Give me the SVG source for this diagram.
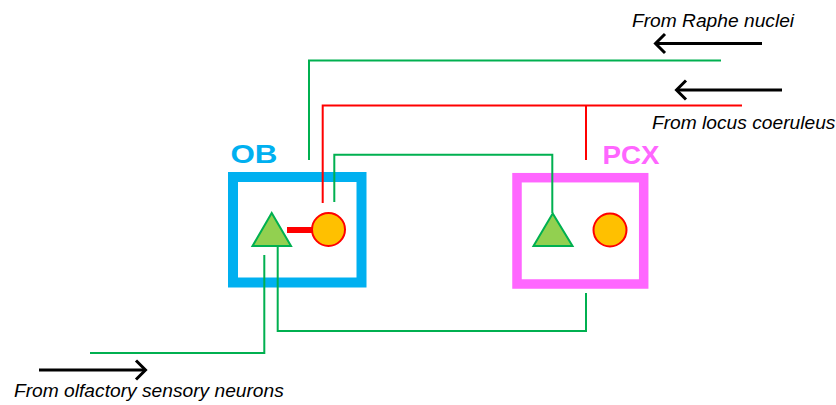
<svg xmlns="http://www.w3.org/2000/svg" width="836" height="405" viewBox="0 0 836 405">
<style>
.lbl{font-family:"Liberation Sans",Arial,sans-serif;font-style:italic;font-size:19.2px;fill:#000}
.ttl{font-family:"Liberation Sans",Arial,sans-serif;font-weight:bold}
.g{fill:none;stroke:#00B050;stroke-width:2}
.r{fill:none;stroke:#FF0000;stroke-width:2}
.arr{fill:none;stroke:#000;stroke-width:3}
.tri{fill:#92D050;stroke:#00B050;stroke-width:2;stroke-linejoin:miter}
.cir{fill:#FFC000;stroke:#FF0000;stroke-width:2}
</style>
<rect width="836" height="405" fill="#fff"/>
<g id="OB">
<rect x="233" y="177" width="128.5" height="105.5" fill="none" stroke="#00B0F0" stroke-width="10"/>
<text class="ttl" x="230.5" y="163" font-size="25" fill="#00B0F0" textLength="47" lengthAdjust="spacingAndGlyphs">OB</text>
<polygon class="tri" points="271.7,213 252.5,246 291,246"/>
<circle class="cir" cx="328.5" cy="229.5" r="16.5"/>
</g>
<g id="PCX">
<rect x="517" y="177.7" width="126.7" height="106.3" fill="none" stroke="#FF66FF" stroke-width="9.5"/>
<text class="ttl" x="602.5" y="164" font-size="25" fill="#FF66FF" textLength="57" lengthAdjust="spacingAndGlyphs">PCX</text>
<polygon class="tri" points="552.7,213.5 533.5,246 572.5,246"/>
<circle class="cir" cx="610" cy="230" r="16.5"/>
</g>
<g id="labels">
<text class="lbl" x="632" y="27">From Raphe nuclei</text>
<text class="lbl" x="652" y="129">From locus coeruleus</text>
<text class="lbl" x="14" y="397">From olfactory sensory neurons</text>
</g>
<g id="connectors">
<polyline class="g" points="721,60.5 309,60.5 309,160"/>
<polyline class="r" points="742,105.5 322.7,105.5 322.7,203"/>
<line class="r" x1="586" y1="105.5" x2="586" y2="160"/>
<polyline class="g" points="334.3,202 334.3,154.7 552.3,154.7 552.3,213"/>
<polyline class="g" points="586,293 586,331 277.7,331 277.7,246"/>
<polyline class="g" points="90,353 264.3,353 264.3,255"/>
<line x1="287" y1="230" x2="312" y2="230" stroke="#FF0000" stroke-width="6"/>
<line class="arr" x1="762" y1="43.5" x2="656" y2="43.5"/>
<polyline class="arr" points="665,34 655.5,43.5 665,53"/>
<line class="arr" x1="782" y1="90" x2="677" y2="90"/>
<polyline class="arr" points="686,80.5 676.5,90 686,99.5"/>
<line class="arr" x1="39" y1="370" x2="145" y2="370"/>
<polyline class="arr" points="136,360.5 145.5,370 136,379.5"/>
</g>
</svg>
